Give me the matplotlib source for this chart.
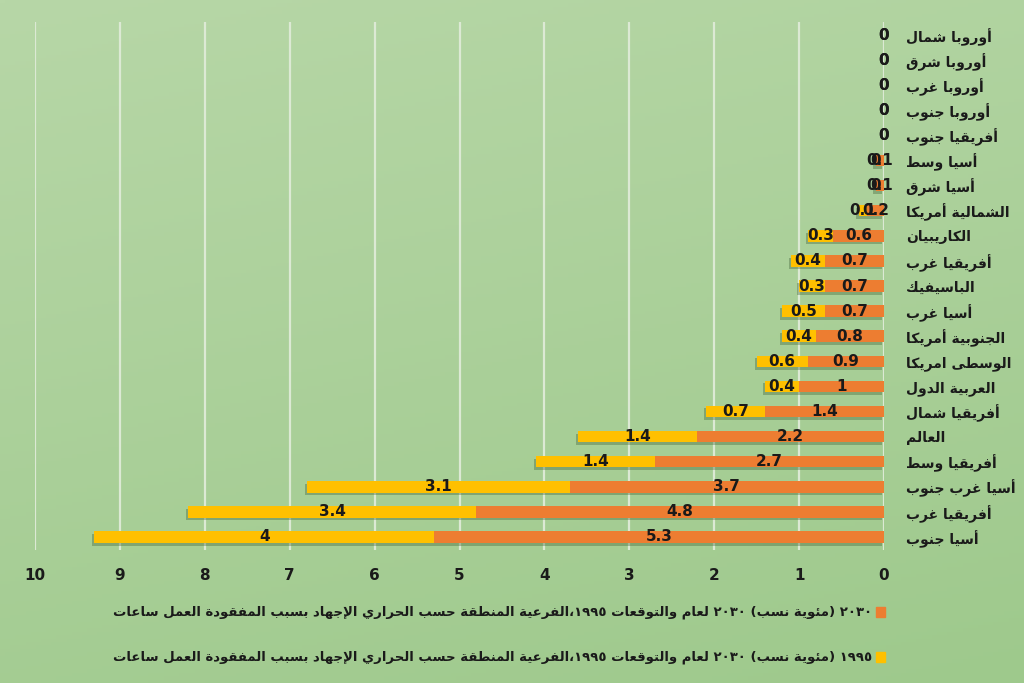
import re
import numpy as np
import matplotlib
matplotlib.use("Agg")
import matplotlib.pyplot as plt
import matplotlib.patheffects as pe
from matplotlib.patches import Rectangle

# Data (top row first)
regions = ["شمال أوروبا", "شرق أوروبا", "غرب أوروبا", "جنوب أوروبا", "جنوب أفريقيا",
           "وسط أسيا", "شرق أسيا", "أمريكا الشمالية", "الكاريبيان", "غرب أفريقيا",
           "الباسيفيك", "غرب أسيا", "أمريكا الجنوبية", "امريكا الوسطى", "الدول العربية",
           "شمال أفريقيا", "العالم", "وسط أفريقيا", "جنوب غرب أسيا", "غرب أفريقيا", "جنوب أسيا"]
hours_2030 = [0, 0, 0, 0, 0, 0.1, 0.1, 0.2, 0.6, 0.7, 0.7, 0.7, 0.8, 0.9, 1, 1.4, 2.2, 2.7, 3.7, 4.8, 5.3]
hours_1995 = [0, 0, 0, 0, 0, 0, 0, 0.1, 0.3, 0.4, 0.3, 0.5, 0.4, 0.6, 0.4, 0.7, 1.4, 1.4, 3.1, 3.4, 4]
legend_2030 = "ساعات العمل المفقودة بسبب الإجهاد الحراري حسب المنطقة الفرعية،١٩٩٥ والتوقعات لعام ٢٠٣٠ (نسب مئوية) ٢٠٣٠"
legend_1995 = "ساعات العمل المفقودة بسبب الإجهاد الحراري حسب المنطقة الفرعية،١٩٩٥ والتوقعات لعام ٢٠٣٠ (نسب مئوية) ١٩٩٥"
x_ticks = list(range(0, 11))

ORANGE = "#ED7D31"
YELLOW = "#FFC000"

# minimal Arabic shaping (matplotlib has no text shaping)
# letter -> (isolated form code point, joins to the next letter?)
FORMS = {
    'ء': (0xFE80, None), 'آ': (0xFE81, False), 'أ': (0xFE83, False), 'ؤ': (0xFE85, False),
    'إ': (0xFE87, False), 'ئ': (0xFE89, True), 'ا': (0xFE8D, False), 'ب': (0xFE8F, True),
    'ة': (0xFE93, False), 'ت': (0xFE95, True), 'ث': (0xFE99, True), 'ج': (0xFE9D, True),
    'ح': (0xFEA1, True), 'خ': (0xFEA5, True), 'د': (0xFEA9, False), 'ذ': (0xFEAB, False),
    'ر': (0xFEAD, False), 'ز': (0xFEAF, False), 'س': (0xFEB1, True), 'ش': (0xFEB5, True),
    'ص': (0xFEB9, True), 'ض': (0xFEBD, True), 'ط': (0xFEC1, True), 'ظ': (0xFEC5, True),
    'ع': (0xFEC9, True), 'غ': (0xFECD, True), 'ف': (0xFED1, True), 'ق': (0xFED5, True),
    'ك': (0xFED9, True), 'ل': (0xFEDD, True), 'م': (0xFEE1, True), 'ن': (0xFEE5, True),
    'ه': (0xFEE9, True), 'و': (0xFEED, False), 'ى': (0xFEEF, False), 'ي': (0xFEF1, True),
}
LAM_ALEF = {'آ': 0xFEF5, 'أ': 0xFEF7, 'إ': 0xFEF9, 'ا': 0xFEFB}


def shape_run(run):
    units = []
    i = 0
    while i < len(run):
        if run[i] == 'ل' and i + 1 < len(run) and run[i + 1] in LAM_ALEF:
            units.append((LAM_ALEF[run[i + 1]], False))
            i += 2
        else:
            units.append(FORMS.get(run[i], (ord(run[i]), None)))
            i += 1
    out = []
    for k, (base, dual) in enumerate(units):
        prev_join = k > 0 and units[k - 1][1] is True and dual is not None
        next_join = dual is True and k + 1 < len(units) and units[k + 1][1] is not None
        if dual is None:
            out.append(chr(base))
        elif prev_join and next_join:
            out.append(chr(base + 3))
        elif prev_join:
            out.append(chr(base + 1))
        elif next_join:
            out.append(chr(base + 2))
        else:
            out.append(chr(base))
    return "".join(reversed(out))


def ar(text):
    # words stay in left-to-right order like in the source picture
    parts = re.split(r"([\u0621-\u064A]+)", text)
    return "".join(shape_run(p) if re.fullmatch(r"[\u0621-\u064A]+", p) else p for p in parts)


plt.rcParams['font.family'] = ['DejaVu Sans']
plt.rcParams['font.weight'] = 'bold'

fig = plt.figure(figsize=(10.24, 6.83), dpi=100)

# green gradient background
bg = fig.add_axes([0, 0, 1, 1], zorder=-10)
gy, gx = np.mgrid[0:1:200j, 0:1:200j]
top = np.array([183, 215, 167]) / 255
bot = np.array([158, 201, 140]) / 255
t = np.clip(0.75 * gy + 0.25 * gx, 0, 1)[..., None]
bg.imshow(top * (1 - t) + bot * t, aspect='auto', extent=[0, 1, 0, 1], origin='upper')
bg.axis('off')

ax = fig.add_axes([35 / 1024, 1 - 550 / 683, (884 - 35) / 1024, 528 / 683])
ax.set_facecolor('none')

pos = np.arange(len(regions))
shadow = [pe.SimplePatchShadow(offset=(-1.5, -2), alpha=0.35, shadow_rgbFace='#3a5a30'), pe.Normal()]
b1 = ax.barh(pos, hours_2030, height=0.46, color=ORANGE, zorder=3, path_effects=shadow)
b2 = ax.barh(pos, hours_1995, left=hours_2030, height=0.46, color=YELLOW, zorder=3,
             path_effects=shadow)
for cont, vals in ((b1, hours_2030), (b2, hours_1995)):
    ax.bar_label(cont, labels=[f"{v:g}" for v in vals], label_type='center',
                 fontsize=11, fontweight='bold', color='#1a1a1a', zorder=5)

ax.set_xlim(10, 0)
ax.set_ylim(20.52, -0.52)
ax.set_xticks(x_ticks)
ax.xaxis.grid(True, color='#dce9d4', linewidth=1.6, zorder=0)
ax.set_axisbelow(True)
ax.tick_params(axis='x', length=0, pad=13, labelsize=11)
for lab in ax.get_xticklabels():
    lab.set_fontweight('bold')
    lab.set_color('#1a1a1a')

ax.yaxis.tick_right()
ax.set_yticks(pos)
ax.set_yticklabels([ar(r) for r in regions], fontsize=10, fontweight='bold', color='#1a1a1a')
ax.tick_params(axis='y', length=0, pad=16)
for s in ax.spines.values():
    s.set_visible(False)

# legend drawn by hand: text on the left, marker on the right
for y, txt, col in ((612, legend_2030, ORANGE), (657, legend_1995, YELLOW)):
    fig.text(872 / 1024, 1 - y / 683, ar(txt), ha='right', va='center',
             fontsize=9.5, fontweight='bold', color='#1a1a1a')
    fig.patches.append(Rectangle((876 / 1024, 1 - (y + 5) / 683), 9 / 1024, 10 / 683,
                                 transform=fig.transFigure, color=col))

fig.savefig("out.png", dpi=100)
